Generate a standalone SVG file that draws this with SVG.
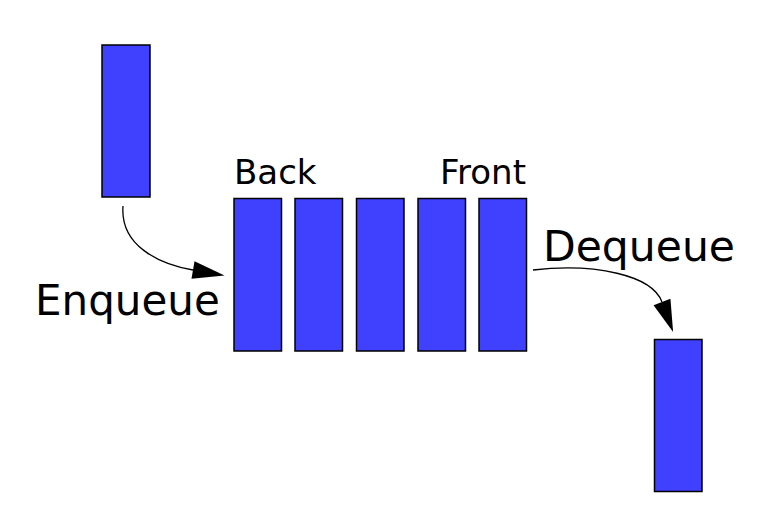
<svg xmlns="http://www.w3.org/2000/svg" width="772" height="516" viewBox="0 0 772 516">
<style>
.box{fill:#4040ff;stroke:#000;stroke-width:1.5}
.lbl{font-family:"DejaVu Sans",sans-serif;fill:#000}
.conn{fill:none;stroke:#000;stroke-width:1.3}
</style>
<defs>
<marker id="ah" markerUnits="userSpaceOnUse" markerWidth="32" markerHeight="18" refX="0" refY="9" orient="auto" overflow="visible">
<path d="M0,0 L32,9 L0,18 z" fill="#000"/>
</marker>
</defs>
<rect width="772" height="516" fill="#fff"/>
<g id="incoming"><rect class="box" x="102" y="45" width="48" height="152"/></g>
<g id="q1"><rect class="box" x="234" y="198.5" width="47.5" height="152.5"/></g>
<g id="q2"><rect class="box" x="295" y="198.5" width="47.5" height="152.5"/></g>
<g id="q3"><rect class="box" x="356.5" y="198.5" width="47.5" height="152.5"/></g>
<g id="q4"><rect class="box" x="418" y="198.5" width="47.5" height="152.5"/></g>
<g id="q5"><rect class="box" x="479" y="198.5" width="47.5" height="152.5"/></g>
<g id="outgoing"><rect class="box" x="654.5" y="339.5" width="47.5" height="152"/></g>
<g id="labels">
<text class="lbl" x="234" y="184" font-size="34">Back</text>
<text class="lbl" x="526" y="184" font-size="34" text-anchor="end">Front</text>
<text class="lbl" x="35" y="315" font-size="42">Enqueue</text>
<text class="lbl" x="543" y="261" font-size="42.5">Dequeue</text>
</g>
<g id="connectors">
<path class="conn" d="M123,206 C120,245 158,264 193,270" marker-end="url(#ah)"/>
<path class="conn" d="M533,270 C595,263 652,275 662,302" marker-end="url(#ah)"/>
</g>
</svg>
